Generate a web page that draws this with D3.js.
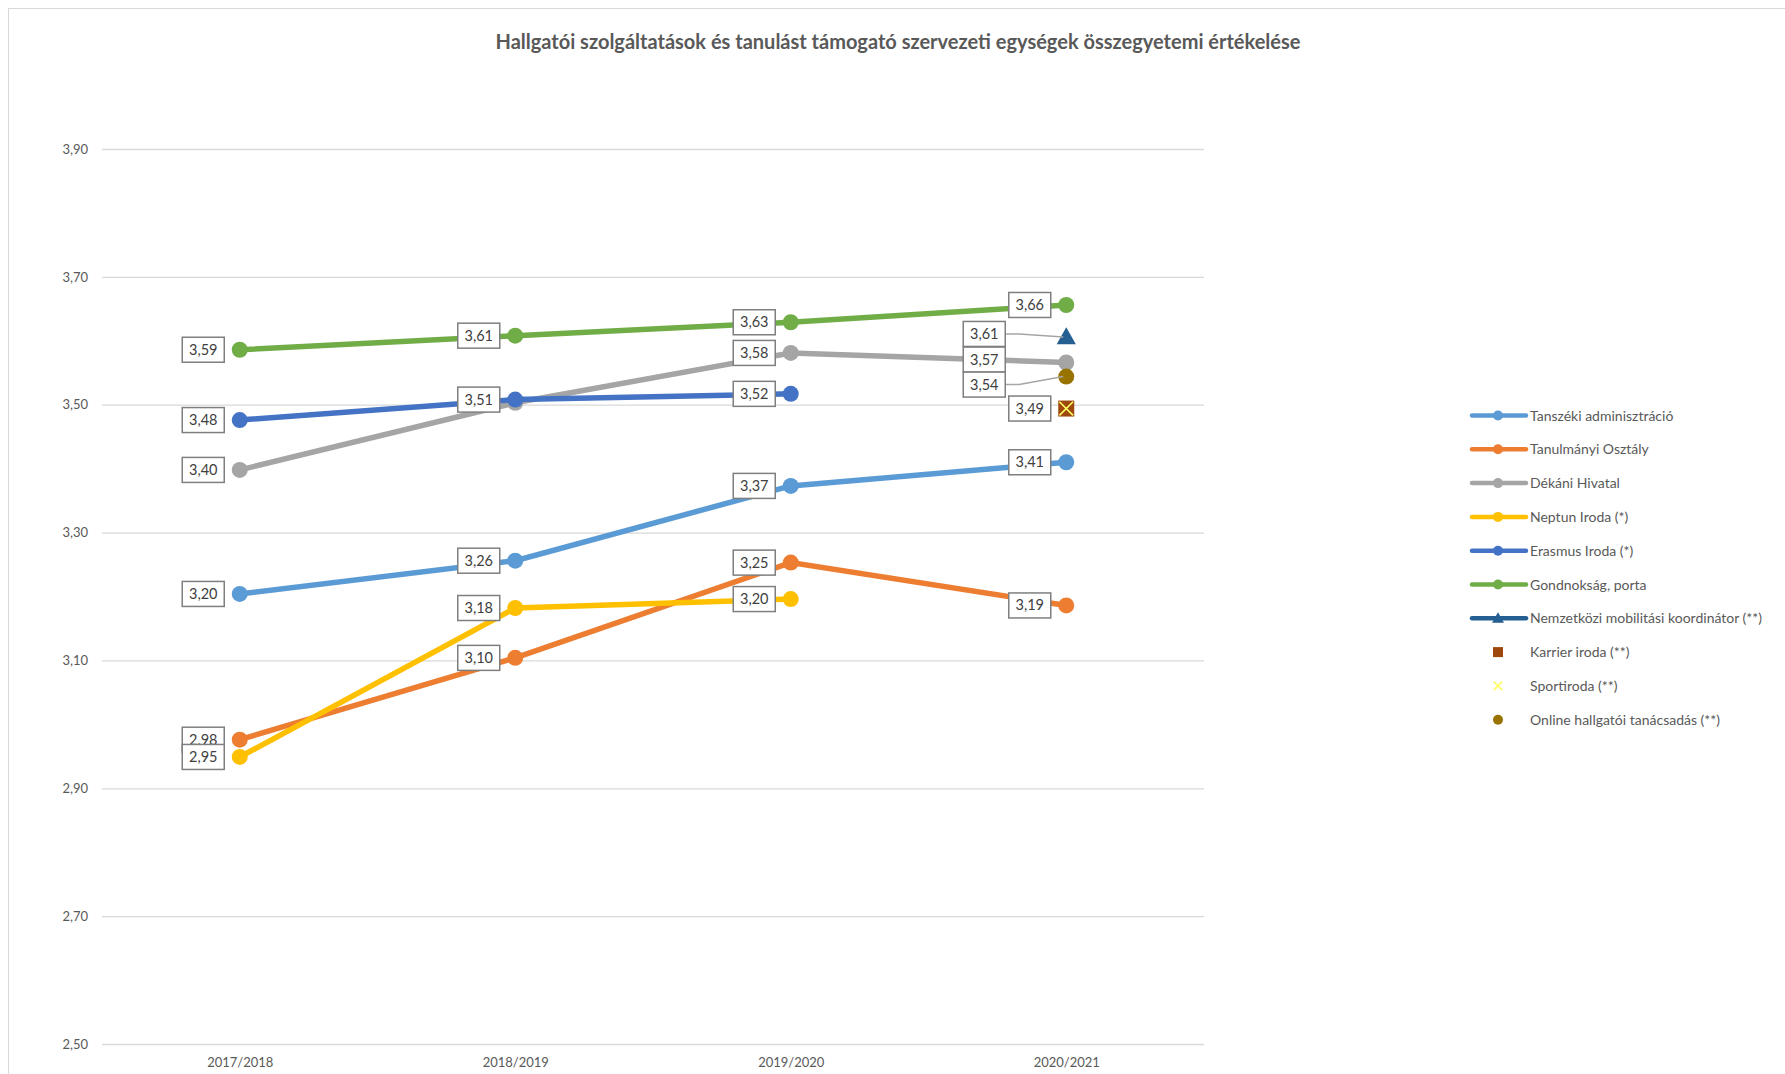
<!DOCTYPE html>
<html><head><meta charset="utf-8">
<script src="https://cdn.jsdelivr.net/npm/d3@7"></script>
<style>
html,body{margin:0;padding:0;background:#fff;}
svg{display:block;font-family:Lato,"Open Sans",sans-serif;}
</style></head>
<body>
<svg id="chart" width="1785" height="1074"></svg>
<script>
const titleText = "Hallgatói szolgáltatások és tanulást támogató szervezeti egységek összegyetemi értékelése";
const categories = ["2017/2018","2018/2019","2019/2020","2020/2021"];
const yTicks = [2.5, 2.7, 2.9, 3.1, 3.3, 3.5, 3.7, 3.9];
const seriesNames = ["Tanszéki adminisztráció","Tanulmányi Osztály","Dékáni Hivatal","Neptun Iroda (*)","Erasmus Iroda (*)","Gondnokság, porta","Nemzetközi mobilitási koordinátor (**)","Karrier iroda (**)","Sportiroda (**)","Online hallgatói tanácsadás (**)"];
const tanszeki   = [3.204, 3.256, 3.373, 3.410];
const tanulmanyi = [2.976, 3.104, 3.253, 3.186];
const dekani     = [3.398, 3.503, 3.581, 3.566];
const neptun     = [2.949, 3.182, 3.196, null];
const erasmus    = [3.476, 3.508, 3.517, null];
const gondnoksag = [3.586, 3.608, 3.629, 3.656];
const nemzetkozi = [null, null, null, 3.606];
const karrier    = [null, null, null, 3.494];
const sport      = [null, null, null, 3.494];
const online     = [null, null, null, 3.544];

const values = [tanszeki, tanulmanyi, dekani, neptun, erasmus, gondnoksag, nemzetkozi, karrier, sport, online];
const colors = ["#5B9BD5","#ED7D31","#A5A5A5","#FFC000","#4472C4","#70AD47","#255E91","#9E480E","#FFFF66","#997300"];
const hasLine = [true,true,true,true,true,true,true,false,false,false];
const markerType = ["circle","circle","circle","circle","circle","circle","triangle","square","x","circle"];
const labelHidden = {"2-1": true, "8-3": true};
const labelPlace = {"6-3":[-82,-3,true], "2-3":[-82,-3,false], "9-3":[-82,8,true]};

const svg = d3.select("#chart");
svg.append("rect").attr("x",8.5).attr("y",8.5).attr("width",1800).attr("height",1100)
  .attr("fill","#fff").attr("stroke","#D9D9D9").attr("stroke-width",1);

const x = d3.scalePoint().domain(categories).range([102,1204]).padding(0.5);
const y = d3.scaleLinear().domain([2.5,3.9]).range([1044,149]);
const fmt = v => d3.format(".2f")(v).replace(".", ",");

svg.append("text").attr("x",898).attr("y",49).attr("text-anchor","middle")
  .attr("font-size",20).attr("font-weight","bold").attr("fill","#595959").text(titleText);

const yAxis = d3.axisLeft(y).tickValues(yTicks).tickSize(-(1204-102)).tickPadding(14).tickFormat(fmt);
const gy = svg.append("g").attr("transform","translate(102,0)").call(yAxis);
gy.select(".domain").remove();
gy.selectAll(".tick line").attr("stroke","#D9D9D9").attr("stroke-width",1.3);
gy.selectAll(".tick text").attr("fill","#595959").attr("font-size",13).attr("font-family","Lato");

const xAxis = d3.axisBottom(x).tickSize(0).tickPadding(14);
const gx = svg.append("g").attr("transform","translate(0,1044)").call(xAxis);
gx.select(".domain").remove();
gx.selectAll(".tick text").attr("fill","#595959").attr("font-size",13).attr("font-family","Lato");

const line = d3.line().defined(d => d.v != null).x(d => x(d.c)).y(d => y(d.v));

function drawMarker(g, type, cx, cy, color, size) {
  if (type === "circle") {
    g.append("circle").attr("cx",cx).attr("cy",cy).attr("r",size).attr("fill",color);
  } else if (type === "triangle") {
    const s = size*1.2;
    g.append("path").attr("d",`M${cx},${cy-s}L${cx+s},${cy+s*0.75}L${cx-s},${cy+s*0.75}Z`).attr("fill",color);
  } else if (type === "square") {
    g.append("rect").attr("x",cx-size).attr("y",cy-size).attr("width",size*2).attr("height",size*2).attr("fill",color);
  } else if (type === "x") {
    const s = size*0.85;
    g.append("path").attr("d",`M${cx-s},${cy-s}L${cx+s},${cy+s}M${cx+s},${cy-s}L${cx-s},${cy+s}`)
      .attr("stroke",color).attr("stroke-width",1.6).attr("fill","none");
  }
}

const plot = svg.append("g");
values.forEach((vals, i) => {
  const pts = categories.map((c, j) => ({c, v: vals[j]}));
  if (hasLine[i]) {
    plot.append("path").datum(pts).attr("d", line).attr("fill","none")
      .attr("stroke", colors[i]).attr("stroke-width", 5.5).attr("stroke-linecap","round");
  }
  pts.forEach(p => { if (p.v != null) drawMarker(plot, markerType[i], x(p.c), y(p.v), colors[i], 8); });
});

const lab = svg.append("g");
const bw = 42, bh = 25;
values.forEach((vals, i) => {
  vals.forEach((v, j) => {
    if (v == null || labelHidden[i+"-"+j]) return;
    const px = x(categories[j]), py = y(v);
    const pl = labelPlace[i+"-"+j] || [-36.5, 0, false];
    const cx = px + pl[0], cy = py + pl[1];
    if (pl[2]) {
      lab.append("path").attr("d",`M${cx+bw/2},${cy}L${cx+bw/2+14},${cy}L${px-3},${py}`)
        .attr("fill","none").attr("stroke","#A6A6A6").attr("stroke-width",1.5);
    }
    lab.append("rect").attr("x",cx-bw/2).attr("y",cy-bh/2).attr("width",bw).attr("height",bh)
      .attr("fill","#fff").attr("stroke","#7F7F7F").attr("stroke-width",1.5);
    lab.append("text").attr("x",cx).attr("y",cy+5).attr("text-anchor","middle")
      .attr("font-size",14.5).attr("fill","#404040").text(fmt(v));
  });
});

const leg = svg.append("g").attr("transform","translate(1472,415.5)");
seriesNames.forEach((name, i) => {
  const g = leg.append("g").attr("transform",`translate(0,${i*33.8})`);
  if (hasLine[i]) g.append("line").attr("x1",0).attr("x2",54).attr("y1",0).attr("y2",0)
    .attr("stroke",colors[i]).attr("stroke-width",4.5).attr("stroke-linecap","round");
  drawMarker(g, markerType[i], 26, 0, colors[i], 5);
  g.append("text").attr("x",58).attr("y",5).attr("font-size",14).attr("fill","#595959").text(name);
});
</script>
</body></html>
